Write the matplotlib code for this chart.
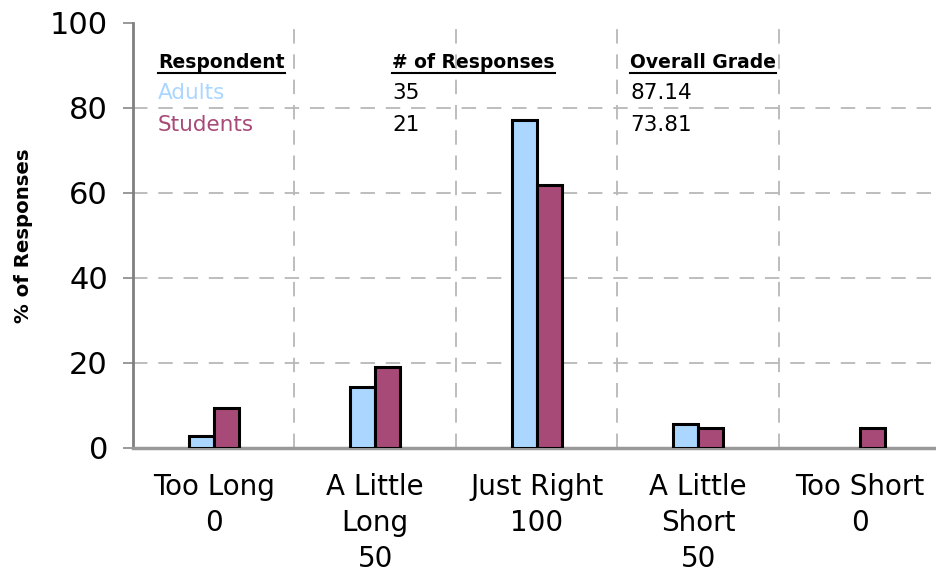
import matplotlib.pyplot as plt
from matplotlib.lines import Line2D
import numpy as np

categories = ["Too Long\n0", "A Little\nLong\n50", "Just Right\n100", "A Little\nShort\n50", "Too Short\n0"]
adults = [2.86, 14.29, 77.14, 5.71, 0.0]
students = [9.52, 19.05, 61.90, 4.76, 4.76]

respondents = ["Adults", "Students"]
n_responses = ["35", "21"]
grades = ["87.14", "73.81"]

adult_color = '#aad6ff'
student_color = '#a84a78'

fig = plt.figure(figsize=(9.36, 5.77), dpi=100)
ax = fig.add_axes([0.142, 0.2236, 0.8627, 0.7366])

x = np.arange(len(categories))
w = 0.155
b1 = ax.bar(x - w / 2, adults, w, color=adult_color, edgecolor='black', linewidth=2.2, zorder=3)
b2 = ax.bar(x + w / 2, students, w, color=student_color, edgecolor='black', linewidth=2.2, zorder=3)
for p in list(b1) + list(b2):
    if p.get_height() == 0:
        p.set_visible(False)

ax.set_xlim(-0.5, len(categories) - 0.5)
ax.set_ylim(0, 100)
ax.set_yticks(range(0, 101, 20))
ax.set_xticks(x)
ax.set_xticklabels(categories, fontsize=20, linespacing=1.36)
ax.tick_params(axis='x', length=0, pad=18)
ax.tick_params(axis='y', labelsize=22, length=7, width=1.2, color='#888888', pad=11)

# grid lines
for v in range(20, 100, 20):
    ax.axhline(v, color='#b8b8b8', lw=1.3, ls=(0, (8, 6)), zorder=1)
for b in np.arange(0.5, len(categories) - 0.5, 1):
    ax.axvline(b, color='#b8b8b8', lw=1.3, ls=(0, (8, 6)), zorder=1)

for s in ['top', 'right']:
    ax.spines[s].set_visible(False)
ax.spines['left'].set_color('#808080')
ax.spines['left'].set_linewidth(2)
ax.spines['bottom'].set_color('#999999')
ax.spines['bottom'].set_linewidth(2.5)

ax.set_ylabel('% of Responses', fontsize=14.2, fontweight='bold', labelpad=12)

# little table inside the plot
col_x = [158, 392, 630]
head_y = 62
row_y = [93, 125]
headers = ["Respondent", "# of Responses", "Overall Grade"]

def px(xp, yp):
    return xp / 936, 1 - yp / 577

heads = []
for cx, h in zip(col_x, headers):
    t = fig.text(*px(cx, head_y), h, fontsize=13.5, fontweight='bold', va='center', ha='left')
    heads.append(t)
for i in range(2):
    fig.text(*px(col_x[0], row_y[i]), respondents[i], fontsize=15.5, va='center', ha='left',
             color=adult_color if i == 0 else student_color)
    fig.text(*px(col_x[1], row_y[i]), n_responses[i], fontsize=15.5, va='center', ha='left')
    fig.text(*px(col_x[2], row_y[i]), grades[i], fontsize=15.5, va='center', ha='left')

fig.canvas.draw()
r = fig.canvas.get_renderer()
for t in heads:
    bb = t.get_window_extent(r)
    yb = bb.y0 - 1
    fig.add_artist(Line2D([bb.x0 / 936, bb.x1 / 936], [yb / 577, yb / 577], color='black', lw=1.5))

fig.savefig('out.png', dpi=100)
